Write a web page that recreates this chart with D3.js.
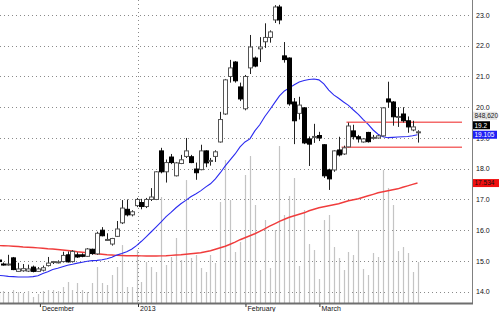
<!DOCTYPE html>
<html><head><meta charset="utf-8">
<script src="https://cdn.jsdelivr.net/npm/d3@7"></script>
<style>body{margin:0;background:#fff}svg{display:block}text{font-family:"Liberation Sans",Arial,sans-serif;font-size:7px}</style>
</head><body><svg id="c" width="500" height="312"></svg>
<script>
const opens=[15.03,14.9,14.88,15.1,14.66,14.68,14.67,14.8,14.66,14.7,14.85,14.96,14.95,14.98,15.2,14.98,15.2,15.2,15.15,15.38,15.23,16.0,15.68,15.55,15.8,16.24,16.68,16.5,16.8,16.9,16.77,17.0,17.0,18.58,17.9,18.38,17.77,18.17,18.4,18.39,17.99,17.97,18.58,18.25,18.4,18.87,19.78,21.0,21.47,20.66,19.95,21.28,21.6,21.9,22.13,22.27,22.84,23.26,21.67,21.6,20.17,19.8,19.98,18.97,19.03,19.08,18.78,17.96,17.96,18.61,18.48,18.71,19.23,19.04,18.87,19.18,19.0,19.0,19.07,20.27,20.17,19.68,19.78,19.56,19.26,19.2];
const highs=[15.06,14.95,15.2,15.13,14.94,14.9,14.88,14.85,14.8,14.85,15.13,15.0,15.02,15.3,15.31,15.35,15.28,15.25,15.42,15.4,15.95,16.1,15.9,15.75,16.3,16.98,17.0,16.65,17.05,17.02,17.05,17.37,17.92,18.68,18.3,18.48,18.22,18.45,19.0,18.45,18.2,18.78,18.6,18.35,18.6,19.85,20.92,21.54,21.5,20.8,21.05,22.35,21.65,22.28,22.73,22.5,23.32,23.33,22.12,21.62,20.3,20.34,20.0,19.05,19.46,19.2,18.8,18.0,18.6,19.04,18.75,19.5,19.43,19.1,19.0,19.2,19.1,19.1,20.0,20.83,20.2,20.0,20.0,19.7,19.56,19.25];
const lows=[14.96,14.85,14.85,14.7,14.64,14.65,14.64,14.63,14.64,14.66,14.82,14.9,14.92,14.95,14.95,14.95,15.1,15.12,15.13,15.2,15.2,15.8,15.65,15.5,15.78,16.2,16.45,16.45,16.75,16.68,16.72,16.95,16.98,17.85,17.55,18.15,17.75,18.15,18.35,18.18,17.64,17.95,18.05,18.1,18.22,18.85,19.75,20.8,20.8,20.2,19.9,21.08,21.3,21.47,21.93,22.1,22.74,22.7,21.45,20.05,18.8,19.6,18.8,18.09,18.84,18.9,17.7,17.31,17.9,18.4,18.45,18.7,18.95,18.85,18.85,18.85,18.95,18.98,19.05,19.98,19.4,19.36,19.5,19.17,19.22,18.85];
const closes=[14.98,14.88,14.9,14.72,14.74,14.75,14.74,14.66,14.74,14.78,14.93,14.98,14.97,15.18,14.97,15.31,15.13,15.15,15.39,15.24,15.9,15.82,15.7,15.73,16.04,16.72,16.5,16.6,17.0,16.77,17.0,17.08,17.9,17.9,18.2,18.2,18.19,18.29,18.58,18.2,17.87,18.58,18.19,18.27,18.55,19.6,20.89,21.28,20.86,20.27,21.0,21.96,21.34,21.96,22.27,22.45,23.26,22.84,21.55,20.11,19.56,20.07,18.84,18.8,19.05,19.0,17.77,17.67,18.58,18.45,18.68,19.39,19.04,18.97,18.97,18.88,19.02,19.07,19.98,20.17,19.69,19.7,19.56,19.36,19.36,19.2];
// volume in thousands of shares
const volumes=[250,248,207,269,228,207,248,124,186,248,269,269,248,331,435,269,414,269,228,414,745,414,373,580,745,1200,331,331,1097,435,849,745,642,2194,787,952,1346,890,2546,932,994,725,642,994,828,2091,2960,2132,1056,1263,2650,3043,2029,683,1718,725,1511,3250,1822,2215,2588,766,1925,1221,1097,497,1718,1822,1159,932,683,1056,994,1511,704,580,1035,952,2753,2381,2029,1076,1159,1035,642,848.62];
const maShort=[14.53,14.52,14.50,14.49,14.48,14.48,14.48,14.49,14.52,14.59,14.65,14.72,14.76,14.81,14.86,14.89,14.93,14.96,14.99,15.01,15.02,15.04,15.07,15.12,15.19,15.24,15.30,15.38,15.50,15.64,15.79,15.95,16.11,16.27,16.44,16.58,16.73,16.86,16.97,17.09,17.18,17.28,17.40,17.51,17.67,17.87,18.09,18.29,18.48,18.71,18.87,18.97,19.23,19.43,19.69,19.91,20.14,20.37,20.53,20.63,20.73,20.82,20.87,20.90,20.92,20.89,20.76,20.56,20.40,20.29,20.17,20.06,19.91,19.77,19.60,19.44,19.26,19.12,19.04,19.01,19.02,19.03,19.04,19.05,19.07,19.105];
const maLong=[15.50,15.495,15.489,15.479,15.47,15.456,15.446,15.437,15.424,15.414,15.398,15.388,15.372,15.356,15.339,15.323,15.30,15.284,15.268,15.251,15.235,15.219,15.203,15.193,15.183,15.177,15.17,15.17,15.17,15.164,15.161,15.161,15.161,15.164,15.17,15.18,15.193,15.203,15.219,15.235,15.251,15.268,15.30,15.333,15.381,15.43,15.479,15.544,15.609,15.69,15.755,15.82,15.885,15.966,16.047,16.129,16.21,16.291,16.356,16.421,16.47,16.519,16.567,16.632,16.681,16.73,16.762,16.795,16.827,16.86,16.908,16.957,16.99,17.022,17.071,17.12,17.168,17.217,17.25,17.282,17.315,17.347,17.396,17.444,17.493,17.534];
const levelValues=[19.51,18.70];
const levelStart=[71,70];
const priceTicks=[14,15,16,17,18,19,20,21,22,23];
const monthLabels=["December","2013","February","March"];
const monthIdx=[8.4,28.3,50.1,65.1];
const yearIdx=28.3;

const svg=d3.select("#c");
const plotR=472, plotB=303;
const n=closes.length;
const x=d3.scaleLinear().domain([0,n-1]).range([-1.5,417.5]);
const y=d3.scaleLinear().domain([14,23]).range([291.7,15]);
const yv=d3.scaleLinear().domain([0,1000]).range([plotB,plotB-48.3]);

svg.append("rect").attr("width",500).attr("height",312).attr("fill","#fff");
svg.append("defs").append("clipPath").attr("id","clip").append("rect").attr("x",0).attr("y",0).attr("width",plotR).attr("height",plotB);
const g=svg.append("g").attr("clip-path","url(#clip)");

// grid
g.selectAll(".hg").data(priceTicks).join("line")
 .attr("x1",0).attr("x2",470).attr("y1",d=>Math.round(y(d))+0.5).attr("y2",d=>Math.round(y(d))+0.5)
 .attr("stroke","#8a8a8a").attr("stroke-dasharray","1,3");
g.append("line").attr("x1",Math.round(x(yearIdx))+0.5).attr("x2",Math.round(x(yearIdx))+0.5)
 .attr("y1",0).attr("y2",plotB).attr("stroke","#8a8a8a").attr("stroke-dasharray","1,3");

// volume
g.selectAll(".vol").data(volumes).join("line")
 .attr("x1",(d,i)=>Math.round(x(i))+0.5).attr("x2",(d,i)=>Math.round(x(i))+0.5)
 .attr("y1",plotB).attr("y2",d=>yv(d)).attr("stroke","#c4c4c4").attr("stroke-width",1.2);

// MAs
const line=d3.line().x((d,i)=>x(i)).y(d=>y(d));
g.append("path").attr("d",line(maLong)).attr("fill","none").attr("stroke","#f03c3c").attr("stroke-width",1.4);
g.append("path").attr("d",line(maShort)).attr("fill","none").attr("stroke","#2a2af0").attr("stroke-width",1.1);

// levels
g.selectAll(".lvl").data(levelValues).join("line")
 .attr("x1",(d,i)=>x(levelStart[i])-2).attr("x2",462)
 .attr("y1",d=>y(d)).attr("y2",d=>y(d)).attr("stroke","#f46a6a").attr("stroke-width",1.6);

// candles
const idx=d3.range(n);
g.selectAll(".wick").data(idx).join("line")
 .attr("x1",i=>Math.round(x(i))+0.5).attr("x2",i=>Math.round(x(i))+0.5)
 .attr("y1",i=>y(highs[i])).attr("y2",i=>y(lows[i])).attr("stroke","#222").attr("stroke-width",1);
g.selectAll(".body").data(idx).join("rect")
 .attr("x",i=>Math.round(x(i))-1.5).attr("width",4)
 .attr("y",i=>y(Math.max(opens[i],closes[i])))
 .attr("height",i=>Math.max(1,Math.abs(y(opens[i])-y(closes[i]))))
 .attr("fill",i=>closes[i]>=opens[i]?"#fff":"#000")
 .attr("stroke",i=>closes[i]>=opens[i]?"#555":"#000").attr("stroke-width",1);

// axes lines
svg.append("line").attr("x1",plotR+0.5).attr("x2",plotR+0.5).attr("y1",0).attr("y2",plotB+1).attr("stroke","#808080").attr("stroke-width",1);
svg.append("line").attr("x1",0).attr("x2",plotR+1).attr("y1",plotB+0.5).attr("y2",plotB+0.5).attr("stroke","#6e6e6e").attr("stroke-width",2);

// right axis labels
const ax=d3.axisRight(y).tickValues(priceTicks).tickFormat(d3.format(".1f")).tickSize(0).tickPadding(4);
const axg=svg.append("g").attr("transform",`translate(${plotR},0)`).call(ax);
axg.select(".domain").remove();
axg.selectAll("text").attr("fill","#111").style("font-size","7px").style("font-family","Liberation Sans, Arial, sans-serif");

// bottom labels
const bx=d3.axisBottom(x).tickValues(monthIdx).tickFormat((d,i)=>monthLabels[i]).tickSize(3).tickPadding(0);
const bxg=svg.append("g").attr("transform",`translate(0,${plotB+1})`).call(bx);
bxg.select(".domain").remove();
bxg.selectAll(".tick line").attr("stroke","#333");
bxg.selectAll("text").attr("text-anchor","start").attr("dx","1.5").attr("dy","0.55em").attr("fill","#111")
 .style("font-size","7px").style("font-family","Liberation Sans, Arial, sans-serif");

// value tags
const lastI=n-1;
const blueY=y(maShort[lastI]);
const blackY=Math.min(y(closes[lastI]),blueY-9.5);
const volY=blackY-9.5;
const redY=y(maLong[lastI]);
const tags=[
 {t:d3.format(",")(Math.round(volumes[lastI]*1000)),cy:volY,bg:"#e4e4e4",fg:"#222",w:24},
 {t:String(closes[lastI]),cy:blackY,bg:"#000",fg:"#fff",w:17},
 {t:String(maShort[lastI]),cy:blueY,bg:"#1f1ff5",fg:"#fff",w:24},
 {t:String(maLong[lastI]),cy:redY,bg:"#f01010",fg:"#111",w:26}
];
const tg=svg.selectAll(".tag").data(tags).join("g").attr("transform",d=>`translate(${plotR+1},${d.cy})`);
tg.append("rect").attr("x",0).attr("y",-4).attr("width",d=>d.w).attr("height",8).attr("fill",d=>d.bg);
tg.append("text").attr("x",1.5).attr("y",0).attr("dy","0.35em").attr("fill",d=>d.fg).style("font-size","6.5px").text(d=>d.t);
</script></body></html>
